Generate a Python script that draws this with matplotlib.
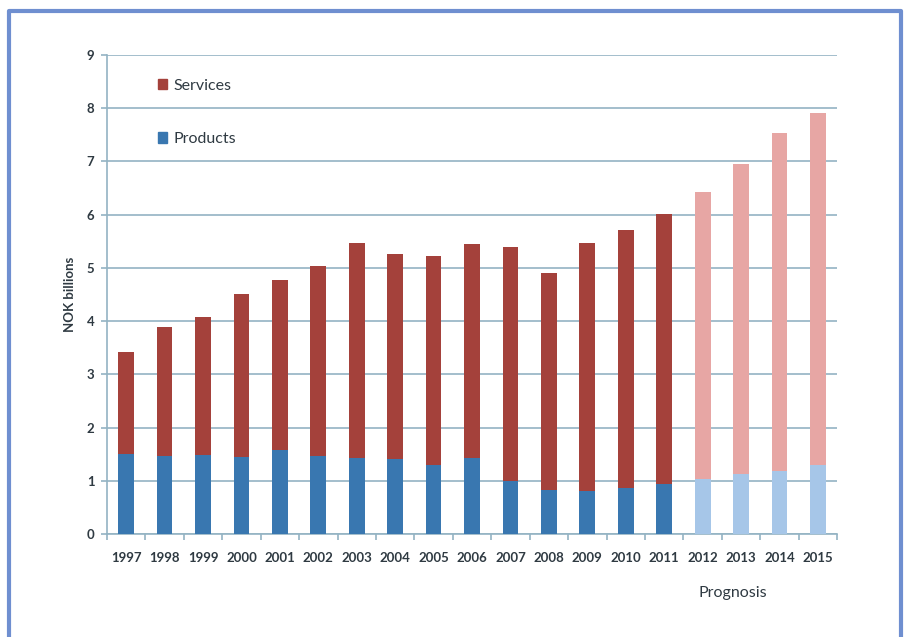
import numpy as np
import matplotlib.pyplot as plt
from matplotlib.lines import Line2D
from matplotlib.patches import Patch

plt.rcParams['font.family'] = ['Lato', 'DejaVu Sans']

years = [str(y) for y in range(1997, 2016)]
totals = [3.42, 3.88, 4.08, 4.51, 4.77, 5.03, 5.47, 5.26, 5.22, 5.45,
          5.40, 4.90, 5.47, 5.71, 6.02, 6.43, 6.96, 7.54, 7.91]
products = [1.50, 1.46, 1.49, 1.44, 1.58, 1.46, 1.43, 1.40, 1.30, 1.43,
            1.00, 0.83, 0.81, 0.86, 0.93, 1.03, 1.13, 1.19, 1.30]
prognosis_from = "2012"

services = [t - p for t, p in zip(totals, products)]
n_actual = years.index(prognosis_from)

serv_dark, serv_light = "#a4413b", "#e7a6a4"
prod_dark, prod_light = "#3977b0", "#a6c6e8"
grid_col = "#93b3c3"
text_col = "#2f3a42"

fig = plt.figure(figsize=(9.06, 6.37), dpi=100)
ax = fig.add_axes([0.118, 0.1617, 0.806, 0.752])

x = np.arange(len(years))
prod_colors = [prod_dark if i < n_actual else prod_light for i in x]
serv_colors = [serv_dark if i < n_actual else serv_light for i in x]
ax.bar(x, products, width=0.41, color=prod_colors, zorder=3)
ax.bar(x, services, width=0.41, bottom=products, color=serv_colors, zorder=3)

ax.set_xlim(-0.5, len(years) - 0.5)
ax.set_ylim(0, 9)
ax.set_yticks(range(10))
ax.yaxis.grid(True, color=grid_col, linewidth=1.2, zorder=0)
ax.set_xticks(x)
ax.set_xticklabels(years)
ax.set_xticks(np.arange(-0.5, len(years)), minor=True)
ax.tick_params(axis='x', which='major', length=0, pad=13, labelsize=9.5, labelcolor=text_col)
ax.tick_params(axis='x', which='minor', length=4, color=grid_col, width=1.2)
ax.tick_params(axis='y', length=4, color=grid_col, width=1.2, pad=5, labelsize=9.5, labelcolor=text_col)
for lab in ax.get_xticklabels() + ax.get_yticklabels():
    lab.set_fontweight('bold')

for side in ['top', 'right']:
    ax.spines[side].set_visible(False)
for side in ['left', 'bottom']:
    ax.spines[side].set_color(grid_col)
    ax.spines[side].set_linewidth(1.2)

ax.set_ylabel("NOK billions", fontsize=9.5, fontweight='bold', color=text_col, labelpad=8)

handles = [Patch(color=serv_dark), Patch(color=prod_dark)]
ax.legend(handles, ["Services", "Products"], loc='upper left', bbox_to_anchor=(0.05, 0.98),
          frameon=False, fontsize=11.5, handlelength=0.6, handleheight=0.6, handletextpad=0.4,
          labelspacing=2.45, labelcolor=text_col)

fig.text(733 / 906, 1 - 593 / 637, "Prognosis", fontsize=11.5, color=text_col,
         ha='center', va='center')

# blue frame around the chart (open at the bottom)
frame = "#6f8fd0"
fig.add_artist(Line2D([9 / 906, 9 / 906, 901 / 906, 901 / 906], [0, 1 - 11 / 637, 1 - 11 / 637, 0],
                      color=frame, linewidth=3, transform=fig.transFigure))

fig.savefig("out.png", dpi=100)
